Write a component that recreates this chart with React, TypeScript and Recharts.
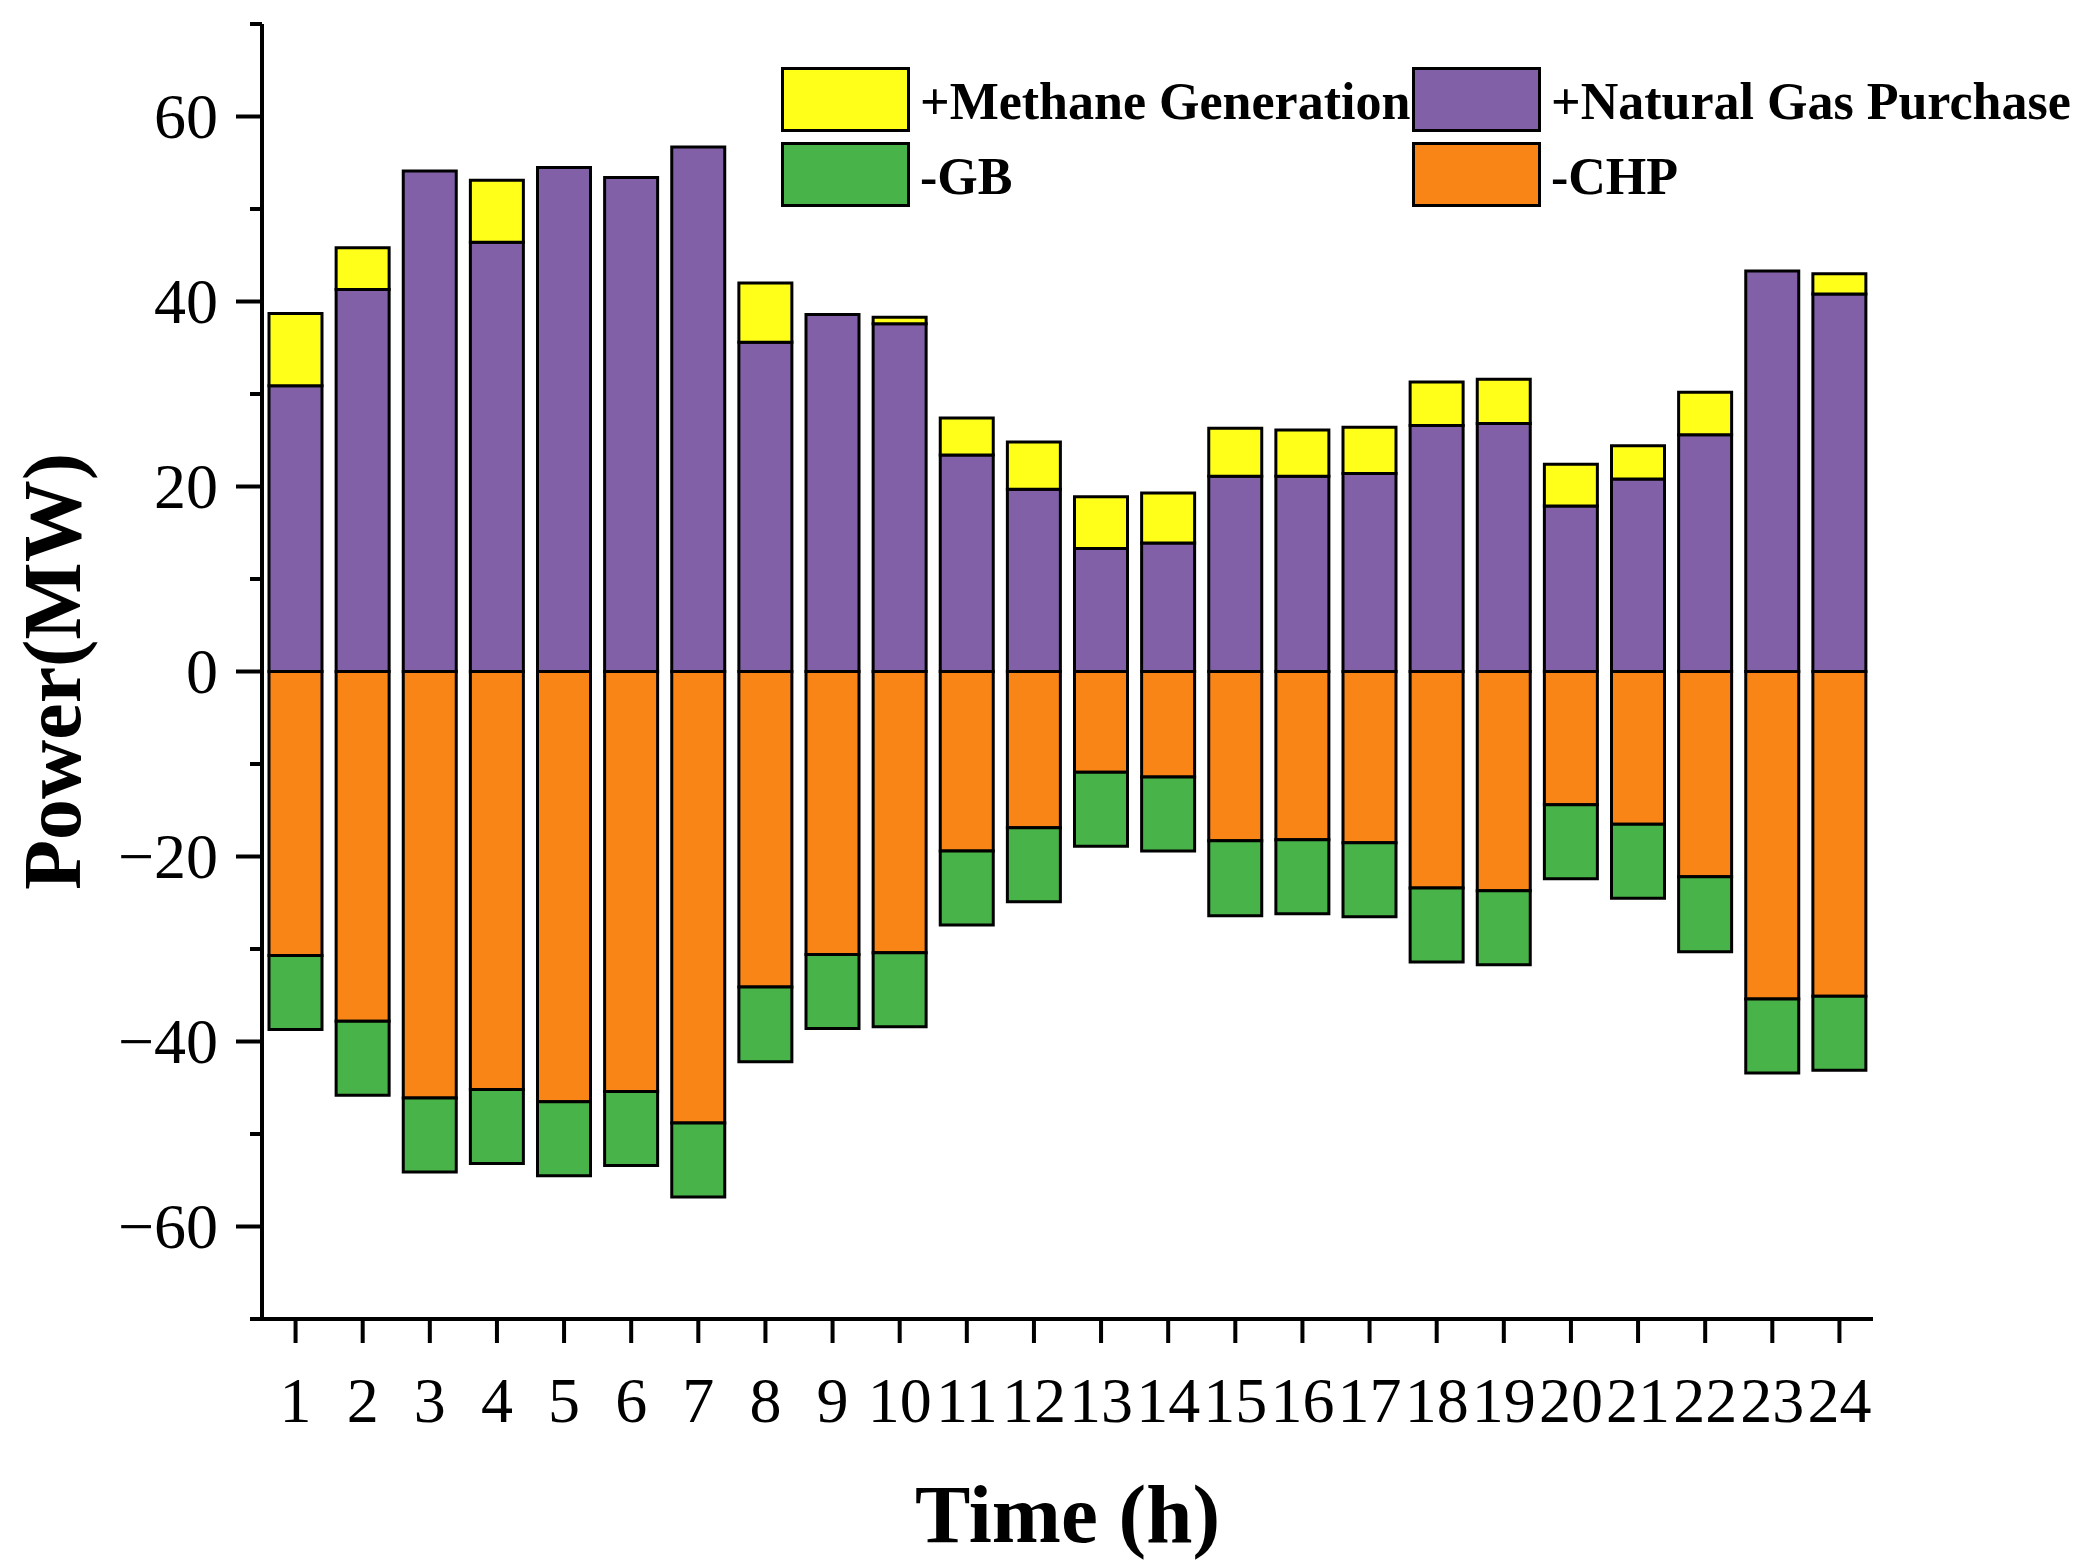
import { BarChart, Bar, XAxis, YAxis, Legend } from 'recharts'

const HOURS = ['1', '2', '3', '4', '5', '6', '7', '8', '9', '10', '11', '12',
  '13', '14', '15', '16', '17', '18', '19', '20', '21', '22', '23', '24']

// positive side (supply)
const GAS_PURCHASE = [30.9, 41.3, 54.1, 46.4, 54.5, 53.4, 56.7, 35.6, 38.6, 37.6, 23.4, 19.7,
  13.3, 13.9, 21.1, 21.1, 21.4, 26.6, 26.8, 17.9, 20.8, 25.6, 43.3, 40.8]
const METHANE = [7.8, 4.5, 0, 6.7, 0, 0, 0, 6.4, 0, 0.7, 4.0, 5.1,
  5.6, 5.4, 5.2, 5.0, 5.0, 4.7, 4.8, 4.5, 3.6, 4.6, 0, 2.2]

// negative side (consumption)
const CHP = [-30.7, -37.8, -46.1, -45.2, -46.5, -45.4, -48.8, -34.1, -30.6, -30.4, -19.4, -16.9,
  -10.9, -11.4, -18.3, -18.2, -18.5, -23.4, -23.7, -14.4, -16.5, -22.2, -35.4, -35.1]
const GB = [-8.0, -8.0, -8.0, -8.0, -8.0, -8.0, -8.0, -8.1, -8.0, -8.0, -8.0, -8.0,
  -8.0, -8.0, -8.1, -8.0, -8.0, -8.0, -8.0, -8.0, -8.0, -8.1, -8.0, -8.0]

const Y_TICKS = [-70, -60, -50, -40, -30, -20, -10, 0, 10, 20, 30, 40, 50, 60, 70]

const COLORS = {
  methane: '#FFFF1A',
  gas: '#8160A8',
  gb: '#48B348',
  chp: '#FA8517',
}

const LEGEND_ROWS = [
  [{ label: '+Methane Generation', color: COLORS.methane }, { label: '+Natural Gas Purchase', color: COLORS.gas }],
  [{ label: '-GB', color: COLORS.gb }, { label: '-CHP', color: COLORS.chp }],
]

const FONT = '"Liberation Serif", "Times New Roman", serif'

const data = HOURS.map((hour, i) => ({
  hour,
  gas: GAS_PURCHASE[i],
  methane: METHANE[i],
  chp: CHP[i],
  gb: GB[i],
}))

const fmt = (v: number) => (v < 0 ? `\u2212${Math.abs(v)}` : `${v}`)

function YTick({ x, y, payload }: any) {
  const v = payload.value as number
  const major = v % 20 === 0
  return (
    <g>
      <line x1={x} x2={x - (major ? 26 : 12)} y1={y} y2={y} stroke="#000" strokeWidth={4} />
      {major && (
        <text x={x - 44} y={y} dy="0.34em" textAnchor="end" fontSize={64} fontFamily={FONT} fill="#000">
          {fmt(v)}
        </text>
      )}
    </g>
  )
}

function XTick({ x, y, payload }: any) {
  return (
    <g>
      <line x1={x} x2={x} y1={y} y2={y + 24} stroke="#000" strokeWidth={4} />
      <text x={x} y={y + 103} textAnchor="middle" fontSize={64} fontFamily={FONT} fill="#000">
        {payload.value}
      </text>
    </g>
  )
}

function LegendBox() {
  return (
    <div style={{ fontFamily: FONT, fontWeight: 'bold', fontSize: 52, color: '#000' }}>
      {LEGEND_ROWS.map((row, r) => (
        <div key={r} style={{ display: 'flex', height: 65, marginBottom: r === 0 ? 10 : 0 }}>
          {row.map((item, c) => (
            <div key={item.label} style={{ display: 'flex', alignItems: 'center', width: c === 0 ? 631 : 660 }}>
              <div style={{ width: 123, height: 59, background: item.color, border: '3px solid #000', flexShrink: 0 }} />
              <span style={{ marginLeft: 10, marginTop: 4, whiteSpace: 'nowrap', lineHeight: 1 }}>{item.label}</span>
            </div>
          ))}
        </div>
      ))}
    </div>
  )
}

export default function App() {
  return (
    <div style={{ position: 'absolute', left: 0, top: 0, width: 2075, height: 1567, background: '#fff' }}>
      <BarChart
        width={2075}
        height={1567}
        data={data}
        stackOffset="sign"
        margin={{ top: 24, right: 202, bottom: 148, left: 162 }}
      >
        <XAxis
          dataKey="hour"
          height={100}
          interval={0}
          tickSize={0}
          tickMargin={0}
          tickLine={false}
          tick={<XTick />}
          axisLine={{ stroke: '#000', strokeWidth: 4 }}
          label={{
            content: ({ viewBox }: any) => (
              <text x={viewBox.x + viewBox.width / 2} y={1542} textAnchor="middle"
                    fontSize={83} fontWeight="bold" fontFamily={FONT} fill="#000">
                Time (h)
              </text>
            ),
          }}
        />
        <YAxis
          width={100}
          domain={[-70, 70]}
          ticks={Y_TICKS}
          interval={0}
          allowDataOverflow
          tickSize={0}
          tickMargin={0}
          tickLine={false}
          tick={<YTick />}
          axisLine={{ stroke: '#000', strokeWidth: 4 }}
          label={{
            content: ({ viewBox }: any) => (
              <text transform={`translate(80, ${viewBox.y + viewBox.height / 2}) rotate(-90)`}
                    textAnchor="middle" fontSize={82} fontWeight="bold" fontFamily={FONT} fill="#000">
                Power(MW)
              </text>
            ),
          }}
        />
        <Legend
          layout="horizontal"
          verticalAlign="middle"
          align="center"
          content={() => <LegendBox />}
          wrapperStyle={{ position: 'absolute', top: 67, left: 781, width: 1300, height: 140 }}
        />
        <Bar dataKey="gas" name="+Natural Gas Purchase" stackId="a" barSize={53}
             fill={COLORS.gas} stroke="#000" strokeWidth={3} isAnimationActive={false} />
        <Bar dataKey="methane" name="+Methane Generation" stackId="a" barSize={53}
             fill={COLORS.methane} stroke="#000" strokeWidth={3} isAnimationActive={false} />
        <Bar dataKey="chp" name="-CHP" stackId="a" barSize={53}
             fill={COLORS.chp} stroke="#000" strokeWidth={3} isAnimationActive={false} />
        <Bar dataKey="gb" name="-GB" stackId="a" barSize={53}
             fill={COLORS.gb} stroke="#000" strokeWidth={3} isAnimationActive={false} />
      </BarChart>
    </div>
  )
}
